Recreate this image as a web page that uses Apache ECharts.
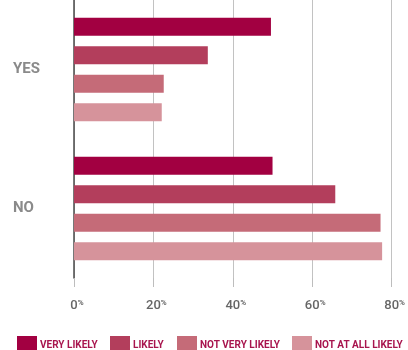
<!DOCTYPE html>
<html>
<head>
<meta charset="utf-8">
<script src="https://cdn.jsdelivr.net/npm/echarts@6/dist/echarts.min.js"></script>
<style>
  html, body { margin: 0; padding: 0; background: #fff; }
  #chart { width: 408px; height: 350px; }
</style>
</head>
<body>
<div id="chart"></div>
<script>
// Answer groups shown on the vertical axis
const categories = ['YES', 'NO'];
// Likelihood series, values in percent
const seriesNames = ['VERY LIKELY', 'LIKELY', 'NOT VERY LIKELY', 'NOT AT ALL LIKELY'];
const veryLikely = [49.6, 50.0];
const likely = [33.7, 65.8];
const notVeryLikely = [22.6, 77.2];
const notAtAllLikely = [22.1, 77.6];
// Percent ticks on the horizontal axis
const xTicks = [0, 20, 40, 60, 80];

const colors = ['#a20041', '#b33e5c', '#c56b78', '#d6939b'];
const seriesValues = [veryLikely, likely, notVeryLikely, notAtAllLikely];
const font = "'Roboto', 'Liberation Sans', sans-serif";
// left edge of each legend swatch
const legendLefts = [12, 105, 172, 287];

const chart = echarts.init(document.getElementById('chart'), null, { renderer: 'canvas' });

chart.setOption({
  animation: false,
  color: colors,
  grid: { left: 74, right: 12, top: 0, height: 278, containLabel: false },
  xAxis: {
    type: 'value',
    min: xTicks[0],
    max: xTicks[xTicks.length - 1],
    interval: xTicks[1] - xTicks[0],
    axisLine: { show: false },
    axisTick: { show: true, length: 9, lineStyle: { color: '#bdbdbd', width: 1 } },
    splitLine: { show: true, lineStyle: { color: '#c2c2c2', width: 1 } },
    axisLabel: {
      margin: 21,
      formatter: v => '{n|' + v + '}{p|%}',
      rich: {
        n: { fontFamily: font, fontSize: 13, fontWeight: 500, color: '#666666', padding: [0, 0, 0, 6] },
        p: { fontFamily: font, fontSize: 8, fontWeight: 'bold', color: '#666666', verticalAlign: 'top', width: 6 }
      }
    }
  },
  yAxis: {
    type: 'category',
    data: categories,
    inverse: true,
    axisLine: { show: true, lineStyle: { color: '#4a4a4a', width: 1.5 } },
    axisTick: { show: false },
    splitLine: { show: false },
    axisLabel: {
      align: 'left',
      margin: 61,
      fontFamily: font,
      fontWeight: 'bold',
      fontSize: 15,
      color: '#8a8a8a'
    }
  },
  legend: seriesNames.map((name, i) => ({
    left: legendLefts[i],
    top: 331,
    itemWidth: 20,
    itemHeight: 19,
    icon: 'rect',
    selectedMode: false,
    textStyle: {
      fontFamily: font,
      fontWeight: 'bold',
      fontSize: 10,
      color: '#a8154e',
      padding: [0, 0, 0, -2]
    },
    data: [name]
  })),
  series: seriesNames.map((name, i) => ({
    name: name,
    type: 'bar',
    data: seriesValues[i],
    barWidth: 18,
    barGap: '58%',
    itemStyle: { color: colors[i] }
  }))
});
</script>
</body>
</html>
